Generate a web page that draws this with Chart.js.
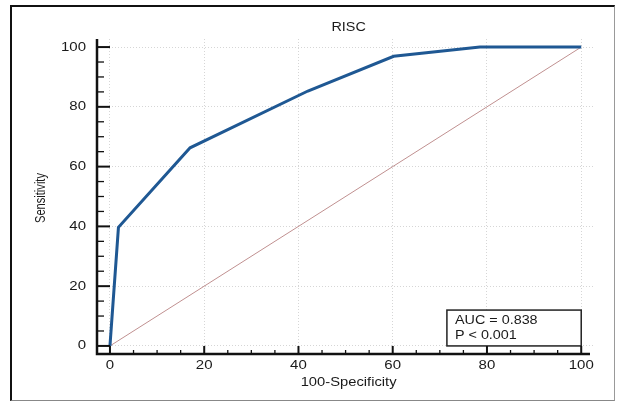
<!DOCTYPE html>
<html>
<head>
<meta charset="utf-8">
<script src="https://cdn.jsdelivr.net/npm/chart.js@4"></script>
<style>
  body { margin: 0; background: #fff; }
  .wrap { position: relative; width: 617px; height: 401px; }
  .frame {
    position: absolute; left: 10px; top: 5px; width: 602px; height: 393px;
    border-top: 2px solid #111; border-left: 2px solid #111;
    border-right: 1px solid #999; border-bottom: 1px solid #888;
    pointer-events: none;
  }
  canvas { position: absolute; left: 0; top: 0; }
</style>
</head>
<body>
<div class="wrap">
  <canvas id="chart" width="617" height="401"></canvas>
  <div class="frame"></div>
</div>
<script>
// data
let rocX = [0, 1.8, 17, 42, 60.2, 78.5, 100];
let rocY = [0, 39.7, 66.3, 85.3, 96.9, 100, 100];
let diagX = [0, 100];
let diagY = [0, 100];
let tickValues = [0, 20, 40, 60, 80, 100];
let minorValues = [5, 10, 15, 25, 30, 35, 45, 50, 55, 65, 70, 75, 85, 90, 95];
let titleText = "RISC";
let xTitle = "100-Specificity";
let yTitle = "Sensitivity";
let boxLines = ["AUC = 0.838", "P < 0.001"];
let boxRange = { x0: 71.5, x1: 100, y0: 0, y1: 12 };

const ctx = document.getElementById("chart");

// wide helvetica-like text
function drawText(c, s, x, y, size, align, sx) {
  c.save();
  c.translate(x, y);
  c.scale(sx, 1);
  c.font = size + 'px "Liberation Sans", Arial, sans-serif';
  c.textAlign = align;
  c.textBaseline = "middle";
  c.fillStyle = "#1a1a1a";
  c.fillText(s, 0, 0);
  c.restore();
}

const axesPlugin = {
  id: "axes",
  afterDatasetsDraw(chart) {
    let c = chart.ctx;
    let xs = chart.scales.x;
    let ys = chart.scales.y;
    let area = chart.chartArea;

    // AUC box
    let bx0 = xs.getPixelForValue(boxRange.x0);
    let bx1 = xs.getPixelForValue(boxRange.x1);
    let by0 = ys.getPixelForValue(boxRange.y1);
    let by1 = ys.getPixelForValue(boxRange.y0);
    c.save();
    c.fillStyle = "#fff";
    c.fillRect(bx0, by0, bx1 - bx0, by1 - by0);
    c.strokeStyle = "#222";
    c.lineWidth = 1.5;
    c.strokeRect(bx0, by0, bx1 - bx0, by1 - by0);
    c.restore();
    drawText(c, boxLines[0], bx0 + 8, by0 + 10, 12.5, "left", 1.15);
    drawText(c, boxLines[1], bx0 + 8, by0 + 25, 12.5, "left", 1.15);

    // axis lines
    c.save();
    c.strokeStyle = "#111";
    c.lineWidth = 2.5;
    c.beginPath();
    c.moveTo(area.left, area.top);
    c.lineTo(area.left, area.bottom);
    c.lineTo(area.right - 3, area.bottom);
    c.stroke();

    // inward ticks
    c.lineWidth = 2;
    tickValues.forEach((v) => {
      let py = ys.getPixelForValue(v);
      c.beginPath();
      c.moveTo(area.left, py);
      c.lineTo(area.left + 13, py);
      c.stroke();
      let px = xs.getPixelForValue(v);
      c.beginPath();
      c.moveTo(px, area.bottom);
      c.lineTo(px, area.bottom - 8);
      c.stroke();
    });
    c.lineWidth = 1.3;
    minorValues.forEach((v) => {
      let py = ys.getPixelForValue(v);
      c.beginPath();
      c.moveTo(area.left, py);
      c.lineTo(area.left + 7, py);
      c.stroke();
      let px = xs.getPixelForValue(v);
      c.beginPath();
      c.moveTo(px, area.bottom);
      c.lineTo(px, area.bottom - 4);
      c.stroke();
    });
    c.restore();

    // tick labels
    tickValues.forEach((v) => {
      drawText(c, String(v), area.left - 11, ys.getPixelForValue(v), 12.5, "right", 1.2);
      drawText(c, String(v), xs.getPixelForValue(v), area.bottom + 12, 12.5, "center", 1.2);
    });

    // titles
    let midX = (xs.getPixelForValue(0) + xs.getPixelForValue(100)) / 2;
    drawText(c, titleText, midX + 3, 28, 12, "center", 1.2);
    drawText(c, xTitle, midX + 3, 383, 12.5, "center", 1.18);
    c.save();
    c.translate(41, 198);
    c.rotate(-Math.PI / 2);
    drawText(c, yTitle, 0, 0, 15, "center", 0.74);
    c.restore();
  },
};

let myChart = new Chart(ctx, {
  type: "line",
  data: {
    datasets: [
      {
        label: "ROC",
        data: rocX.map((x, i) => ({ x: x, y: rocY[i] })),
        borderColor: "#1f5893",
        borderWidth: 3,
        pointRadius: 0,
        tension: 0,
        fill: false,
      },
      {
        label: "Reference",
        data: diagX.map((x, i) => ({ x: x, y: diagY[i] })),
        borderColor: "#c09090",
        borderWidth: 1,
        pointRadius: 0,
        fill: false,
      },
    ],
  },
  options: {
    responsive: false,
    animation: false,
    layout: {
      padding: { left: 97, right: 24, top: 39, bottom: 47 },
    },
    scales: {
      x: {
        type: "linear",
        min: -2.75,
        max: 102.5,
        afterBuildTicks: (scale) => {
          scale.ticks = tickValues.map((v) => ({ value: v }));
        },
        ticks: { display: false },
        grid: { color: "#d6d6d6", lineWidth: 1, drawTicks: false },
        border: { display: false, dash: [1, 2] },
      },
      y: {
        type: "linear",
        min: -2.7,
        max: 102.7,
        afterBuildTicks: (scale) => {
          scale.ticks = tickValues.map((v) => ({ value: v }));
        },
        ticks: { display: false },
        grid: { color: "#d6d6d6", lineWidth: 1, drawTicks: false },
        border: { display: false, dash: [1, 2] },
      },
    },
    plugins: {
      legend: { display: false },
      tooltip: { enabled: false },
    },
  },
  plugins: [axesPlugin],
});
</script>
</body>
</html>
